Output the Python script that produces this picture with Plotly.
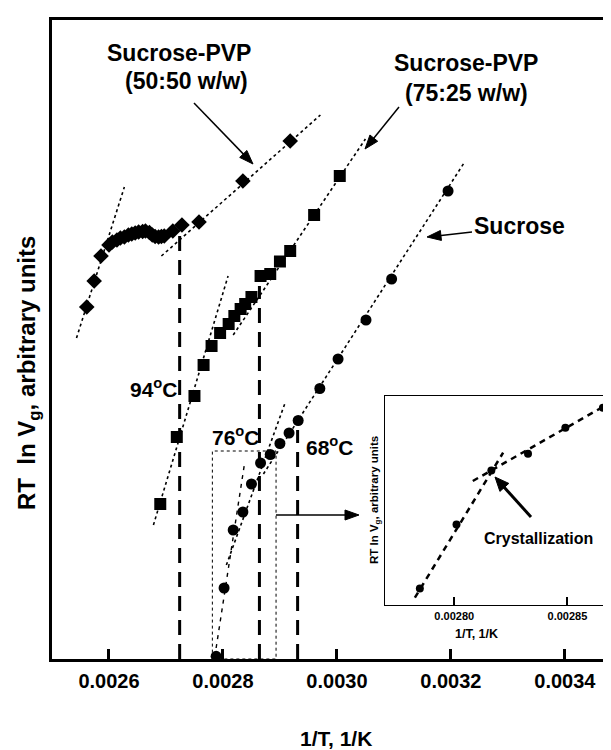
import math
import plotly.graph_objects as go

# ---------------- data ----------------
# Sucrose-PVP (50:50 w/w) - diamonds
pvp50_x = [0.002561, 0.002574, 0.002586, 0.002600, 0.002606, 0.002614, 0.002620, 0.002627,
           0.002634, 0.002640, 0.002646, 0.002652, 0.002659, 0.002664, 0.002671, 0.002676,
           0.002681, 0.002687, 0.002692, 0.002697, 0.002712, 0.002728, 0.002758, 0.002835, 0.002918]
pvp50_y = [35.2, 37.8, 40.3, 41.4, 41.7, 41.9, 42.1, 42.2, 42.4, 42.5, 42.6, 42.7, 42.75, 42.8,
           42.65, 42.4, 42.25, 42.2, 42.25, 42.3, 42.8, 43.4, 43.7, 47.8, 51.8]

# Sucrose-PVP (75:25 w/w) - squares
pvp75_x = [0.002690, 0.002719, 0.002750, 0.002766, 0.002780, 0.002795, 0.002810, 0.002820,
           0.002831, 0.002839, 0.002850, 0.002866, 0.002883, 0.002900, 0.002918, 0.002960, 0.003005]
pvp75_y = [15.5, 22.2, 26.3, 29.4, 31.3, 32.6, 33.5, 34.3, 35.0, 35.5, 36.2, 38.3, 38.5, 39.75,
           40.8, 44.4, 48.3]

# Sucrose - circles
suc_x = [0.002788, 0.002802, 0.002818, 0.002835, 0.002850, 0.002866, 0.002883, 0.002900,
         0.002916, 0.002932, 0.002970, 0.003002, 0.003051, 0.003096, 0.003195]
suc_y = [0.27, 7.1, 12.9, 14.7, 17.5, 19.6, 20.45, 21.55, 22.6, 23.85, 27.05, 30.0, 33.9, 38.0, 46.8]

# fitted guide lines (start/end)
fit_pvp50_a = ([0.002543, 0.002627], [32.1, 47.2])
fit_pvp50_b = ([0.002692, 0.002971], [40.3, 54.4])
fit_pvp75_a = ([0.002678, 0.002809], [13.4, 38.3])
fit_pvp75_b = ([0.002818, 0.003050], [32.4, 52.0])
fit_suc_a = ([0.002788, 0.002838], [1.1, 19.6])
fit_suc_b = ([0.002806, 0.002909], [9.4, 25.6])
fit_suc_c = ([0.002871, 0.003223], [18.5, 49.6])

# transition temperatures (vertical dashed lines)
trans_labels = ["94", "76", "68"]
trans_x = [0.002724, 0.002864, 0.002931]
trans_top = [42.3, 37.3, 22.9]

# zoom box
box_x = [0.0027814, 0.0028932]
box_y = [0.0, 20.8]

# inset (crystallization region of sucrose)
ins_x = [0.0027848, 0.002801, 0.0028164, 0.0028326, 0.0028491, 0.0028657]
ins_y = [1.66, 8.06, 13.46, 15.13, 17.73, 19.73]
ins_fit_a = ([0.0027826, 0.0028216], [0.73, 15.23])
ins_fit_b = ([0.0028082, 0.0028656], [12.4, 19.8])

x_ticks = [0.0026, 0.0028, 0.0030, 0.0032, 0.0034]
x_ticklabels = ["0.0026", "0.0028", "0.0030", "0.0032", "0.0034"]
ins_ticks = [0.00280, 0.00285]
ins_ticklabels = ["0.00280", "0.00285"]

# ---------------- layout geometry ----------------
W, H = 611, 750
ML, MR, MT, MB = 44, 0, 12, 99
PW, PH = W - ML - MR, H - MT - MB


def px(x):
    return (x - ML) / PW


def py(y):
    return (H - MB - y) / PH


FONT = "Liberation Sans, Arial, sans-serif"

fig = go.Figure()

dot = dict(color="black", width=1.6, dash="dot")

for fx, fy in [fit_pvp50_a, fit_pvp50_b, fit_pvp75_a, fit_pvp75_b, fit_suc_b, fit_suc_c]:
    fig.add_trace(go.Scatter(x=fx, y=fy, mode="lines", line=dot, showlegend=False, hoverinfo="skip"))
fig.add_trace(go.Scatter(x=fit_suc_a[0], y=fit_suc_a[1], mode="lines",
                         line=dict(color="black", width=1.4, dash="4px,5px"),
                         showlegend=False, hoverinfo="skip"))

for tx, tt in zip(trans_x, trans_top):
    fig.add_trace(go.Scatter(x=[tx, tx], y=[0, tt], mode="lines",
                             line=dict(color="black", width=3, dash="15px,9px"),
                             showlegend=False, hoverinfo="skip"))

fig.add_trace(go.Scatter(x=pvp50_x, y=pvp50_y, mode="markers", name="Sucrose-PVP (50:50 w/w)",
                         marker=dict(symbol="diamond", size=12, color="black"), showlegend=False))
fig.add_trace(go.Scatter(x=pvp75_x, y=pvp75_y, mode="markers", name="Sucrose-PVP (75:25 w/w)",
                         marker=dict(symbol="square", size=12, color="black"), showlegend=False))
fig.add_trace(go.Scatter(x=suc_x, y=suc_y, mode="markers", name="Sucrose",
                         marker=dict(symbol="circle", size=11, color="black"), showlegend=False,
                         cliponaxis=False))

# inset traces
for fx, fy in [ins_fit_a, ins_fit_b]:
    fig.add_trace(go.Scatter(x=fx, y=fy, mode="lines", xaxis="x2", yaxis="y2",
                             line=dict(color="black", width=2.5, dash="6px,5px"),
                             showlegend=False, hoverinfo="skip"))
fig.add_trace(go.Scatter(x=ins_x, y=ins_y, mode="markers", xaxis="x2", yaxis="y2",
                         marker=dict(symbol="circle", size=8, color="black"), showlegend=False))

# dotted zoom box
fig.add_shape(type="rect", x0=box_x[0], x1=box_x[1], y0=box_y[0], y1=box_y[1],
              xref="x", yref="y", line=dict(color="black", width=1, dash="dot"))

ann = []


def text(s, x, y, size=22, angle=0):
    ann.append(dict(text="<b>" + s + "</b>", x=px(x), y=py(y), xref="paper", yref="paper",
                    showarrow=False, xanchor="center", yanchor="middle", textangle=angle,
                    font=dict(family=FONT, size=size, color="black")))


def arrow(x0, y0, x1, y1, width=1.5, head=13, half=5):
    """Straight arrow drawn as a line plus a filled triangular head (pixel positions)."""
    dx, dy = x1 - x0, y1 - y0
    L = math.hypot(dx, dy)
    ux, uy = dx / L, dy / L
    bx, by = x1 - ux * head, y1 - uy * head
    fig.add_shape(type="line", xref="paper", yref="paper",
                  x0=px(x0), y0=py(y0), x1=px(bx + ux * 2), y1=py(by + uy * 2),
                  line=dict(color="black", width=width))
    p1 = (bx - uy * half, by + ux * half)
    p2 = (bx + uy * half, by - ux * half)
    path = "M {} {} L {} {} L {} {} Z".format(px(x1), py(y1), px(p1[0]), py(p1[1]),
                                              px(p2[0]), py(p2[1]))
    fig.add_shape(type="path", xref="paper", yref="paper", path=path,
                  fillcolor="black", line=dict(color="black", width=1))


text("Sucrose-PVP", 171, 45, size=23)
text("(50:50 w/w)", 178, 73, size=23)
text("Sucrose-PVP", 458, 55, size=23)
text("(75:25 w/w)", 458, 85, size=23)
text("Sucrose", 511, 218, size=23)
arrow(186, 95, 245, 156, 1.5, 14, 5)
arrow(391, 99, 357, 141, 1.5, 14, 5)
arrow(464, 224, 419, 229, 1.5, 14, 5)

for lab, xx, yy in zip(trans_labels, [146, 228, 322], [380, 428, 438]):
    text(lab + "<sup>o</sup>C", xx, yy, size=21)

arrow(268, 507, 351, 507, 1.5, 14, 5)

text("Crystallization", 530, 530, size=16)
arrow(523, 509, 487, 469, 3, 14, 6)

text("RT  ln V<sub>g</sub>, arbitrary units", 20, 365, size=24, angle=-90)
text("1/T, 1/K", 328, 730, size=21)
text("RT ln V<sub>g</sub>, arbitrary units", 367, 492, size=11.5, angle=-90)
text("1/T, 1/K", 468, 626, size=12.5)

fig.update_layout(
    width=W, height=H,
    margin=dict(l=ML, r=MR, t=MT, b=MB),
    paper_bgcolor="white", plot_bgcolor="white",
    showlegend=False,
    annotations=ann,
    xaxis=dict(range=[0.0025, 0.003495], tickvals=x_ticks,
               ticktext=["<b>" + t + "</b>" for t in x_ticklabels],
               ticks="inside", ticklen=10, tickwidth=2.5, tickcolor="black",
               showline=True, linewidth=3, linecolor="black", mirror=True,
               showgrid=False, zeroline=False, ticklabelstandoff=2,
               tickfont=dict(family=FONT, size=20, color="black")),
    yaxis=dict(range=[0, 63.9], showticklabels=False, ticks="",
               showline=True, linewidth=3, linecolor="black", mirror=False,
               showgrid=False, zeroline=False),
    xaxis2=dict(domain=[px(377), px(606)], anchor="y2", range=[0.0027694, 0.0028706],
                tickvals=ins_ticks, ticktext=["<b>" + t + "</b>" for t in ins_ticklabels],
                ticks="inside", ticklen=8,
                tickwidth=1.5, tickcolor="black", showline=True, linewidth=1, linecolor="black",
                mirror=True, showgrid=False, zeroline=False, ticklabelstandoff=1,
                tickfont=dict(family=FONT, size=11, color="black")),
    yaxis2=dict(domain=[py(597), py(388)], anchor="x2", range=[0, 20.9], showticklabels=False,
                ticks="", showline=True, linewidth=1, linecolor="black", mirror=True,
                showgrid=False, zeroline=False),
)

fig.write_html("out.html")
